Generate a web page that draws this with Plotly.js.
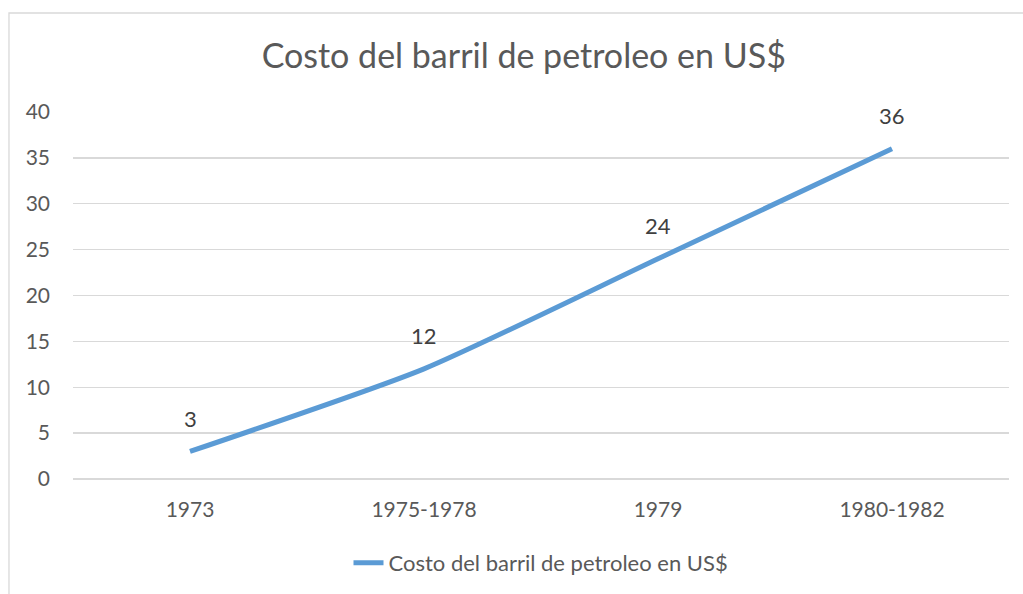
<!DOCTYPE html>
<html>
<head>
<meta charset="utf-8">
<script src="https://cdn.plot.ly/plotly-3.0.1.min.js"></script>
<style>
html,body{margin:0;padding:0;background:#fff;}
#chart{width:1023px;height:594px;}
</style>
</head>
<body>
<div id="chart"></div>
<script>
const categories = ["1973", "1975-1978", "1979", "1980-1982"];
const values = [3, 12, 24, 36];
const seriesName = "Costo del barril de petroleo en US$";
const chartTitle = "Costo del barril de petroleo en US$";
const yTicks = [0, 5, 10, 15, 20, 25, 30, 35, 40];

const FONT = "Lato, 'Open Sans', sans-serif";
const GREY = "#595959";

const trace = {
  type: "scatter",
  mode: "lines",
  x: categories,
  y: values,
  name: seriesName,
  line: {color: "#5B9BD5", width: 5, shape: "spline", smoothing: 0.6},
  hoverinfo: "x+y"
};

const annotations = categories.map((c, i) => ({
  x: i, y: values[i], xref: "x", yref: "y",
  text: String(values[i]), showarrow: false, yshift: 33,
  font: {family: FONT, size: 22, color: "#404040"}
}));

const layout = {
  width: 1023, height: 594,
  margin: {l: 73, r: 14, t: 112, b: 115, autoexpand: false},
  paper_bgcolor: "#ffffff", plot_bgcolor: "#ffffff",
  title: {text: chartTitle, x: 0.512, xanchor: "center", y: 0.905, yanchor: "middle",
          font: {family: FONT, size: 34, color: GREY}},
  xaxis: {type: "category", range: [-0.5, 3.5], showgrid: false, zeroline: false,
          showline: false, ticks: "", tickfont: {family: FONT, size: 21, color: GREY},
          ticklabelstandoff: 16, fixedrange: true},
  yaxis: {range: [0, 40], tickvals: yTicks, ticktext: yTicks.map(String),
          showgrid: true, gridcolor: "#d9d9d9", gridwidth: 1.3, zeroline: true,
          zerolinecolor: "#d9d9d9", zerolinewidth: 1.3, showline: false, ticks: "",
          tickfont: {family: FONT, size: 21, color: GREY}, ticklabelstandoff: 22, fixedrange: true},
  showlegend: true,
  legend: {orientation: "h", x: 0.5, xanchor: "center", y: -0.229, yanchor: "middle",
           font: {family: FONT, size: 22, color: GREY}, bgcolor: "rgba(0,0,0,0)"},
  annotations: annotations,
  shapes: [{type: "rect", xref: "paper", yref: "paper",
            x0: -0.0684, x1: 1.2, y0: -0.6, y1: 1.2698,
            line: {color: "#d9d9d9", width: 1.3}, fillcolor: "rgba(0,0,0,0)", layer: "below"}]
};

Plotly.newPlot("chart", [trace], layout, {displayModeBar: false, staticPlot: true});
</script>
</body>
</html>
